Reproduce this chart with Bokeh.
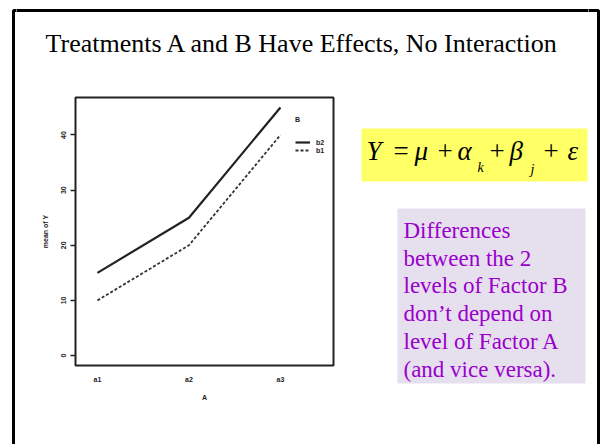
from bokeh.plotting import figure
from bokeh.layouts import column, row
from bokeh.models import (Label, BoxAnnotation, Legend, LegendItem,
                          Range1d, FixedTicker)
from bokeh.embed import file_html
from bokeh.resources import INLINE

# ---- data -------------------------------------------------------------
a_levels = ["a1", "a2", "a3"]
b_levels = ["b2", "b1"]
b2_means = [15, 25, 45]
b1_means = [10, 20, 40]
y_ticks = [0, 10, 20, 30, 40]

title_text = "Treatments A and B Have Effects, No Interaction"
note_lines = ["Differences", "between the 2", "levels of Factor B",
              "don\u2019t depend on", "level of Factor A", "(and vice versa)."]

# ---- page geometry (page pixels, y downward) --------------------------
W, H = 603, 444
ROW_TOP = 92                         # split between title band and body
LEFT_R = 16                          # full-height strip with the left edge
RIGHT_L = 588                        # full-height strip with the right edge
PLOT_R = 345                         # right edge of the plot figure
FL, FR, FT, FB = 75, 333, 97, 365    # inner plot frame
SLIDE = dict(left=13, right=598, top=10, bottom=520)
SERIF = "Liberation Serif"
DESCENT = 0.216                      # serif descent, in em


def text_y(baseline, px):
    """Label y that puts the serif baseline at the given page row."""
    return baseline - DESCENT * px


def deco_figure(x0, x1, y0, y1, border=True):
    """Blank figure whose data units are page pixels (y grows downward)."""
    f = figure(width=x1 - x0, height=y1 - y0, output_backend="svg",
               toolbar_location=None, title=None, x_range=Range1d(x0, x1),
               y_range=Range1d(y1, y0), min_border=0, align="start",
               x_axis_location=None, y_axis_location=None)
    f.grid.visible = False
    f.outline_line_color = None
    f.background_fill_color = "white"
    f.border_fill_color = "white"
    if border:
        f.add_layout(BoxAnnotation(fill_alpha=0, line_color="black",
                                   line_width=3, line_alpha=1, **SLIDE))
    return f


# ---- slide edges ------------------------------------------------------
left_strip = deco_figure(0, LEFT_R, 0, H)
right_strip = deco_figure(RIGHT_L, W, 0, H)

# ---- title band -------------------------------------------------------
top = deco_figure(LEFT_R, RIGHT_L, 0, ROW_TOP)
top.add_layout(Label(x=45, y=text_y(49, 26), text=title_text, text_font=SERIF,
                     text_font_size="26px", text_color="black",
                     text_baseline="alphabetic"))

# ---- interaction plot -------------------------------------------------
p = figure(width=PLOT_R - LEFT_R, height=H - ROW_TOP, output_backend="svg",
           toolbar_location=None, title=None, align="start",
           x_range=Range1d(0.76, 3.58), y_range=Range1d(-1.8, 46.8),
           min_border_left=FL - LEFT_R, min_border_right=PLOT_R - FR,
           min_border_top=FT - ROW_TOP, min_border_bottom=H - FB)
p.xgrid.visible = False
p.ygrid.visible = False
p.background_fill_color = "white"
p.border_fill_color = "white"
p.outline_line_color = "#222222"
p.outline_line_width = 2

xs = list(range(1, len(a_levels) + 1))
r2 = p.line(xs, b2_means, line_color="#222222", line_width=2.2)
r1 = p.line(xs, b1_means, line_color="#333333", line_width=1.8,
            line_dash="3 2")

small = "7px"
ink = "#222222"

# x axis: level names, no tick marks
p.xaxis.ticker = FixedTicker(ticks=xs)
p.xaxis.major_label_overrides = {x: a for x, a in zip(xs, a_levels)}
p.xaxis.major_tick_line_color = None
p.xaxis.minor_tick_line_color = None
p.xaxis.axis_line_color = None
p.xaxis.major_label_standoff = 4
p.xaxis.axis_label = "A"
p.xaxis.axis_label_standoff = 8

# y axis: labels turned parallel to the axis
p.yaxis.ticker = FixedTicker(ticks=y_ticks)
p.yaxis.minor_tick_line_color = None
p.yaxis.axis_line_color = None
p.yaxis.major_tick_in = 0
p.yaxis.major_tick_out = 5
p.yaxis.major_tick_line_color = ink
p.yaxis.major_tick_line_width = 1.5
p.yaxis.major_label_orientation = "vertical"
p.yaxis.major_label_standoff = 4
p.yaxis.axis_label = "mean of Y"
p.yaxis.axis_label_standoff = 10

for ax in (p.xaxis, p.yaxis):
    ax.major_label_text_font = "Liberation Sans"
    ax.major_label_text_font_size = small
    ax.major_label_text_font_style = "bold"
    ax.major_label_text_color = ink
    ax.axis_label_text_font = "Liberation Sans"
    ax.axis_label_text_font_size = small
    ax.axis_label_text_font_style = "bold"
    ax.axis_label_text_color = ink

legend = Legend(items=[LegendItem(label=b_levels[0], renderers=[r2]),
                       LegendItem(label=b_levels[1], renderers=[r1])],
                location=(295 - FL, FB - 154), title="B",
                title_text_font="Liberation Sans", title_text_font_size=small,
                title_text_font_style="bold", title_text_color=ink,
                title_standoff=15,
                label_text_font="Liberation Sans", label_text_font_size=small,
                label_text_font_style="bold", label_text_color=ink,
                glyph_width=15, glyph_height=8, label_height=8,
                label_standoff=6, spacing=0, padding=0, margin=0,
                border_line_color=None, background_fill_alpha=0)
p.add_layout(legend)

# ---- right panel: model and note --------------------------------------
side = deco_figure(PLOT_R, RIGHT_L, ROW_TOP, H, border=False)

side.add_layout(BoxAnnotation(left=361, right=587, top=128, bottom=181,
                              fill_color="#FFFF66", fill_alpha=1,
                              line_alpha=0, level="underlay"))
EQ_PX = 27
eq_tokens = [("Y", 366, "italic"), ("=", 393, "normal"), ("\u03bc", 414, "italic"),
             ("+", 437, "normal"), ("\u03b1", 457, "italic"), ("+", 489, "normal"),
             ("\u03b2", 509, "italic"), ("+", 543, "normal"), ("\u03b5", 567, "italic")]
for tok, x, style in eq_tokens:
    side.add_layout(Label(x=x, y=text_y(156, EQ_PX), text=tok, text_font=SERIF,
                          text_font_size=f"{EQ_PX}px", text_font_style=style,
                          text_color="black", text_baseline="alphabetic"))
for tok, x, base in [("k", 477, 170), ("j", 530, 172)]:
    side.add_layout(Label(x=x, y=text_y(base, 14), text=tok, text_font=SERIF,
                          text_font_size="14px", text_font_style="italic",
                          text_color="black", text_baseline="alphabetic"))

side.add_layout(BoxAnnotation(left=397, right=585, top=208, bottom=383,
                              fill_color="#E6DFEE", fill_alpha=1,
                              line_alpha=0, level="underlay"))
NOTE_PX = 23
for i, line in enumerate(note_lines):
    side.add_layout(Label(x=403, y=text_y(235 + 27.7 * i, NOTE_PX), text=line,
                          text_font=SERIF, text_font_size=f"{NOTE_PX}px",
                          text_color="#9900CC", text_baseline="alphabetic"))

middle = column(top, row(column(p), column(side), spacing=0), spacing=0)
page = row(column(left_strip), middle, column(right_strip), spacing=0)
open("out.html", "w").write(file_html(page, INLINE))
